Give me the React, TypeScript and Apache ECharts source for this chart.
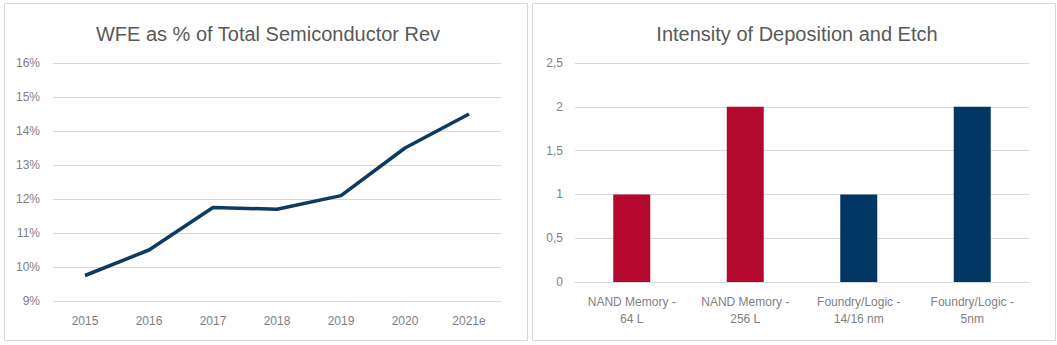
import React, { useEffect, useRef } from "react";
import * as echarts from "echarts";

const years = ["2015", "2016", "2017", "2018", "2019", "2020", "2021e"];
const wfeShare = [9.75, 10.5, 11.75, 11.7, 12.1, 13.5, 14.5];

const segments = ["NAND Memory -\n64 L", "NAND Memory -\n256 L", "Foundry/Logic -\n14/16 nm", "Foundry/Logic -\n5nm"];
const intensity = [1, 2, 1, 2];
const segmentColors = ["#B5082E", "#B5082E", "#003764", "#003764"];

const FONT = "'Liberation Sans', 'DejaVu Sans', sans-serif";
const TXT = "#7F7F7F";
const GRIDC = "#D9D9D9";

export default function App() {
  const ref = useRef<HTMLDivElement>(null);
  useEffect(() => {
    if (!ref.current) return;
    const chart = echarts.init(ref.current, null, { renderer: "svg" });
    chart.setOption({
      animation: false,
      backgroundColor: "#fff",
      textStyle: { fontFamily: FONT },
      graphic: [
        { type: "rect", shape: { x: 4.5, y: 3.5, width: 523, height: 337 }, style: { fill: "none", stroke: GRIDC, lineWidth: 1 }, silent: true },
        { type: "rect", shape: { x: 532.5, y: 3.5, width: 523, height: 337 }, style: { fill: "none", stroke: GRIDC, lineWidth: 1 }, silent: true },
      ],
      title: [
        { text: "WFE as % of Total Semiconductor Rev", left: 263, top: 19, textAlign: "center", textStyle: { fontFamily: FONT, fontSize: 20, fontWeight: "normal", color: "#595959" } },
        { text: "Intensity of Deposition and Etch", left: 792, top: 19, textAlign: "center", textStyle: { fontFamily: FONT, fontSize: 20, fontWeight: "normal", color: "#595959" } },
      ],
      grid: [
        { left: 53, top: 63, width: 448, height: 238 },
        { left: 575, top: 63, width: 454, height: 219 },
      ],
      xAxis: [
        {
          type: "category", gridIndex: 0, data: years, boundaryGap: true,
          axisLine: { show: false }, axisTick: { show: false },
          axisLabel: { color: TXT, fontSize: 12, margin: 14, fontFamily: FONT },
        },
        {
          type: "category", gridIndex: 1, data: segments, boundaryGap: true,
          axisLine: { show: true, lineStyle: { color: GRIDC } }, axisTick: { show: false },
          axisLabel: { color: TXT, fontSize: 12, margin: 11, lineHeight: 17, fontFamily: FONT, interval: 0 },
        },
      ],
      yAxis: [
        {
          type: "value", gridIndex: 0, min: 9, max: 16, interval: 1,
          axisLabel: { color: TXT, fontSize: 12, margin: 13, formatter: "{value}%", fontFamily: FONT },
          splitLine: { lineStyle: { color: GRIDC } },
        },
        {
          type: "value", gridIndex: 1, min: 0, max: 2.5, interval: 0.5,
          axisLabel: { color: TXT, fontSize: 12, margin: 12, fontFamily: FONT, formatter: (v: number) => String(v).replace(".", ",") },
          splitLine: { lineStyle: { color: GRIDC } },
        },
      ],
      series: [
        {
          type: "line", xAxisIndex: 0, yAxisIndex: 0, data: wfeShare,
          symbol: "none", lineStyle: { color: "#0E3A62", width: 3.5 },
        },
        {
          type: "bar", xAxisIndex: 1, yAxisIndex: 1,
          data: intensity.map((v, i) => ({ value: v, itemStyle: { color: segmentColors[i] } })),
          barWidth: 37,
        },
      ],
    });
    return () => chart.dispose();
  }, []);
  return <div ref={ref} style={{ position: "fixed", left: 0, top: 0, width: 1057, height: 345 }} />;
}
